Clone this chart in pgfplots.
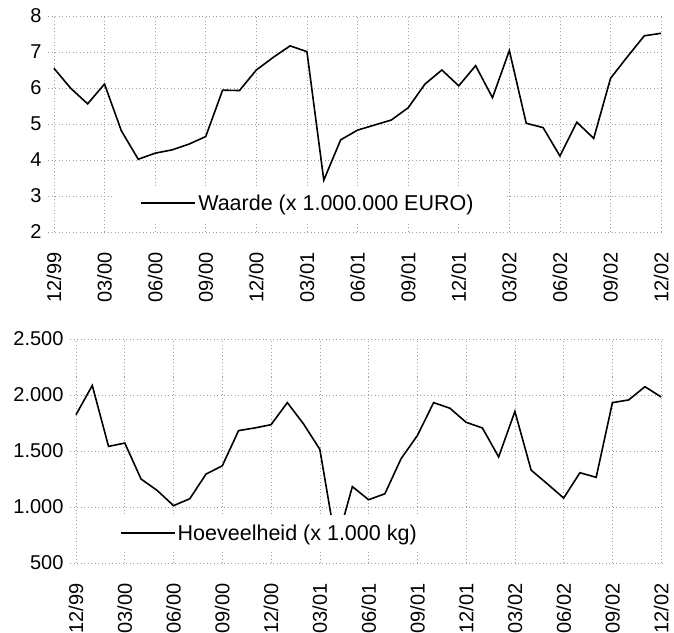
\documentclass[border=0pt]{standalone}
\usepackage{fontspec}
\setmainfont{Liberation Sans}
\usepackage{pgfplots}
\pgfplotsset{compat=1.18}
\begin{document}
\begin{tikzpicture}
\pgfplotsset{
  every axis/.append style={
    scale only axis,
    axis line style={draw=none},
    major tick style={draw=none},
    xmajorgrids, ymajorgrids,
    major grid style={gray!75, line width=0.6pt, dash pattern=on 1pt off 2.5pt},
    tick label style={font=\fontsize{20}{24}\selectfont},
    /pgf/number format/assume math mode=true,
    /pgf/number format/1000 sep={.},
    xtick={0,3,...,36},
    xticklabels={12/99,03/00,06/00,09/00,12/00,03/01,06/01,09/01,12/01,03/02,06/02,09/02,12/02},
    x tick label style={yshift=-18pt, rotate=90, anchor=east, inner xsep=2pt, inner ysep=0.5pt},
    y tick label style={xshift=-3pt},
    legend style={draw=none, fill=white, font=\fontsize{21.5}{25}\selectfont,
      inner xsep=28pt, inner ysep=7pt, cells={anchor=west}},
    legend image code/.code={\draw[#1] (0pt,0pt) -- (54pt,0pt);},
  },
}
\path[use as bounding box] (0pt,0pt) rectangle (674pt,632pt);
\begin{axis}[
  at={(48pt,400pt)}, anchor=south west,
  width=614pt, height=216pt,
  xmin=-0.35, xmax=36.05,
  ymin=2, ymax=8, ytick={2,3,...,8},
  legend style={at={(0.105,0.134)}, anchor=west},
]
\addplot[black, line width=1.6pt] table {
0 6.55
1 5.99
2 5.56
3 6.11
4 4.81
5 4.02
6 4.19
7 4.28
8 4.44
9 4.65
10 5.94
11 5.93
12 6.50
13 6.85
14 7.17
15 7.01
16 3.44
17 4.56
18 4.83
19 4.97
20 5.11
21 5.45
22 6.11
23 6.50
24 6.06
25 6.62
26 5.73
27 7.04
28 5.02
29 4.90
30 4.11
31 5.05
32 4.60
33 6.27
34 6.87
35 7.45
36 7.52
};
\addlegendentry{Waarde (x 1.000.000 EURO)}
\end{axis}
\begin{axis}[
  at={(70pt,69pt)}, anchor=south west,
  width=592pt, height=224pt,
  xmin=-0.37, xmax=36.05,
  ymin=500, ymax=2500, ytick={500,1000,...,2500},
  legend style={at={(0.037,0.134)}, anchor=west},
]
\addplot[black, line width=1.6pt] table {
0 1824
1 2085
2 1541
3 1571
4 1250
5 1147
6 1012
7 1074
8 1294
9 1368
10 1682
11 1706
12 1735
13 1932
14 1741
15 1515
16 660
17 1182
18 1065
19 1118
20 1432
21 1638
22 1932
23 1882
24 1756
25 1706
26 1447
27 1853
28 1329
29 1206
30 1080
31 1306
32 1265
33 1932
34 1956
35 2074
36 1982
};
\addlegendentry{Hoeveelheid (x 1.000 kg)}
\end{axis}
\end{tikzpicture}
\end{document}
